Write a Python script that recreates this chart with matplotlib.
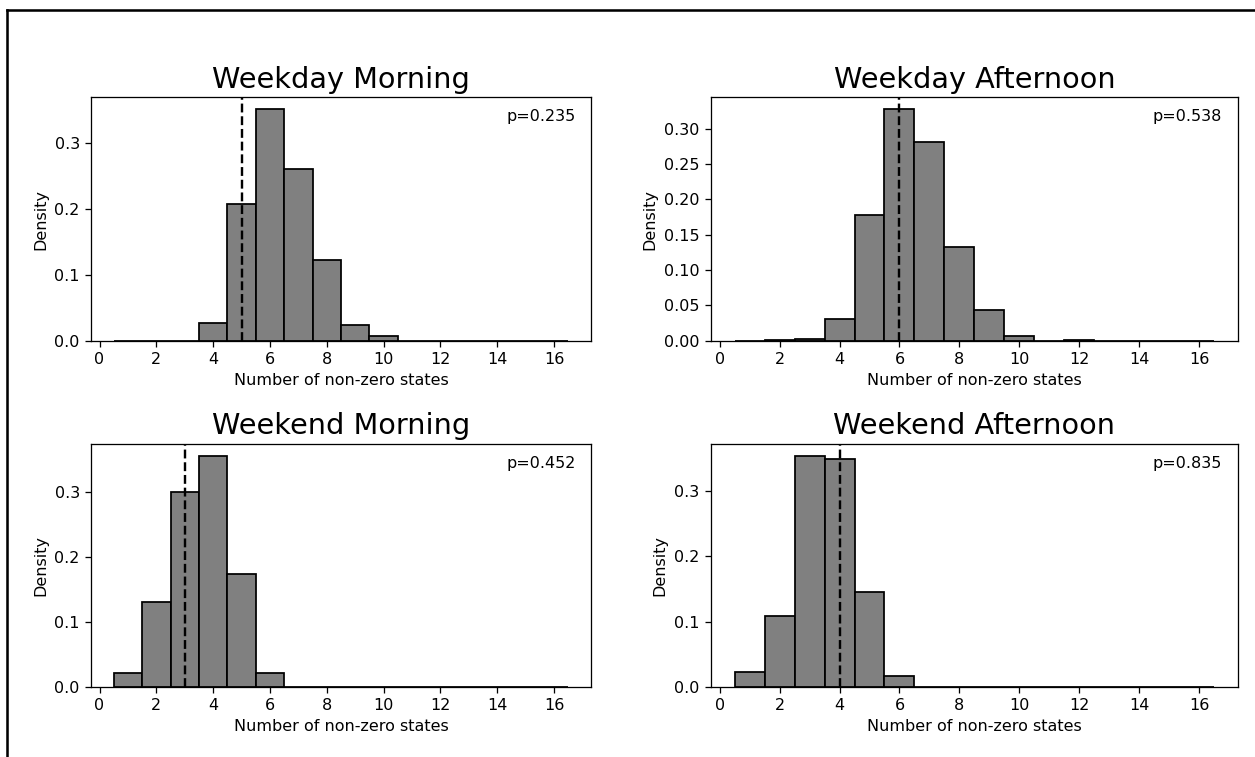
import numpy as np
import matplotlib
matplotlib.use("Agg")
import matplotlib.pyplot as plt
from matplotlib.lines import Line2D

# liczba niezerowych stanów (środki przedziałów)
states = np.arange(1, 17)

# gęstości
wd_morning = [0, 0, 0, 0.027, 0.208, 0.352, 0.261, 0.123, 0.024, 0.007, 0, 0, 0, 0, 0, 0]
wd_afternoon = [0, 0.001, 0.002, 0.031, 0.178, 0.328, 0.281, 0.132, 0.043, 0.006, 0, 0.001, 0, 0, 0, 0]
we_morning = [0.021, 0.131, 0.300, 0.356, 0.173, 0.021, 0, 0, 0, 0, 0, 0, 0, 0, 0, 0]
we_afternoon = [0.022, 0.109, 0.355, 0.350, 0.146, 0.017, 0, 0, 0, 0, 0, 0, 0, 0, 0, 0]

titles = ["Weekday Morning", "Weekday Afternoon", "Weekend Morning", "Weekend Afternoon"]
observed = [5, 6, 3, 4]
p_values = [0.235, 0.538, 0.452, 0.835]
series = [wd_morning, wd_afternoon, we_morning, we_afternoon]

W, H, dpi = 1255, 757, 115
fig = plt.figure(figsize=(W / dpi, H / dpi), dpi=dpi)

# pozycje osi w pikselach: (lewo, prawo, góra, dół)
boxes = [(91, 591, 97.3, 340.7), (710.7, 1238, 97.3, 340.7),
         (91, 591, 444, 686.7), (710.7, 1238, 444, 686.7)]

for i in range(4):
    l, r, t, b = boxes[i]
    ax = fig.add_axes([l / W, 1 - b / H, (r - l) / W, (b - t) / H])
    ax.bar(states, series[i], width=1, color="gray", edgecolor="black", linewidth=1.1)
    ax.axvline(observed[i], color="black", linestyle="--", linewidth=1.5)
    ax.text(0.97, 0.95, f"p={p_values[i]}", transform=ax.transAxes, ha="right", va="top")
    ax.set_title(titles[i], fontsize=18)
    ax.set_xlabel("Number of non-zero states")
    ax.set_ylabel("Density")
    ax.set_xticks(np.arange(0, 17, 2))

# ramka (zrzut ekranu)
fig.add_artist(Line2D([7 / W, 1], [1 - 10 / H, 1 - 10 / H], color="black", linewidth=1.6, transform=fig.transFigure))
fig.add_artist(Line2D([7 / W, 7 / W], [0, 1 - 10 / H], color="black", linewidth=1.6, transform=fig.transFigure))

fig.savefig("out.png", dpi=dpi)
